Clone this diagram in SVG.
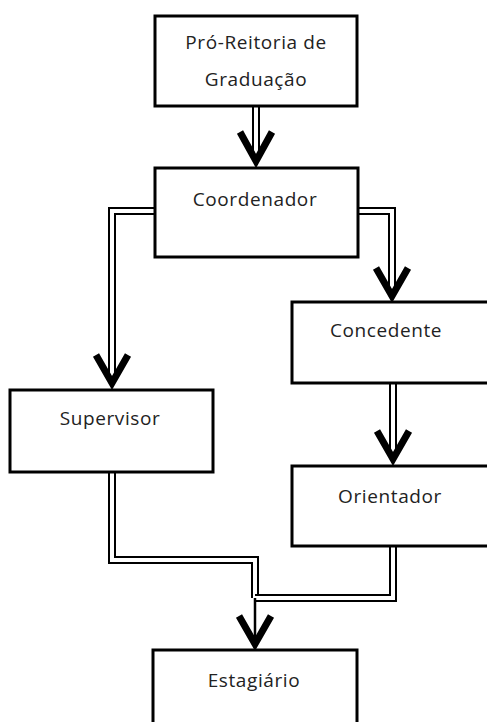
<svg xmlns="http://www.w3.org/2000/svg" width="487" height="722" viewBox="0 0 487 722">
<style>
.box{fill:#fff;stroke:#000;stroke-width:3}
.lbl{font-family:"Open Sans","Liberation Sans",Arial,sans-serif;font-size:19px;letter-spacing:0.6px;fill:#222;text-anchor:middle}
.dblo{fill:none;stroke:#000;stroke-width:8;stroke-linejoin:miter}
.dbli{fill:none;stroke:#fff;stroke-width:4;stroke-linejoin:miter}
.head{fill:none;stroke:#000;stroke-width:7;stroke-linejoin:miter;stroke-linecap:butt}
.single{fill:none;stroke:#000;stroke-width:2.5}
</style>
<rect width="487" height="722" fill="#fff"/>
<g id="connectors">
  <path class="dblo" d="M256 106 V156"/>
  <path class="dbli" d="M256 106 V156"/>
  <path class="dblo" d="M155 211 H112 V378"/>
  <path class="dbli" d="M155 211 H112 V378"/>
  <path class="dblo" d="M358 211 H392 V291"/>
  <path class="dbli" d="M358 211 H392 V291"/>
  <path class="dblo" d="M393 383 V454"/>
  <path class="dbli" d="M393 383 V454"/>
  <path class="dblo" d="M112 472 V560 H255 V598"/>
  <path class="dbli" d="M112 472 V560 H255 V598"/>
  <path class="dblo" d="M393 546 V598 H255"/>
  <path class="dbli" d="M393 546 V598 H255"/>
  <path class="single" d="M255 598 V638"/>
  <polyline class="head" points="240,132 256,161 272,132"/>
  <polyline class="head" points="96,355 112,383 128,355"/>
  <polyline class="head" points="376,268 392,296 408,268"/>
  <polyline class="head" points="377,431 393,459 409,431"/>
  <polyline class="head" points="239,616 255,644 271,616"/>
</g>
<g id="pro-reitoria">
  <rect class="box" x="155" y="16" width="202" height="90"/>
  <text class="lbl" x="256" y="49">Pró-Reitoria de</text>
  <text class="lbl" x="256" y="86">Graduação</text>
</g>
<g id="coordenador">
  <rect class="box" x="155" y="168" width="203" height="89"/>
  <text class="lbl" x="255" y="206">Coordenador</text>
</g>
<g id="concedente">
  <rect class="box" x="292" y="302" width="210" height="81"/>
  <text class="lbl" x="386" y="337">Concedente</text>
</g>
<g id="supervisor">
  <rect class="box" x="10" y="390" width="203" height="82"/>
  <text class="lbl" x="110" y="425">Supervisor</text>
</g>
<g id="orientador">
  <rect class="box" x="292" y="466" width="210" height="80"/>
  <text class="lbl" x="390" y="503">Orientador</text>
</g>
<g id="estagiario">
  <rect class="box" x="153" y="650" width="204" height="90"/>
  <text class="lbl" x="254" y="687">Estagiário</text>
</g>
</svg>
